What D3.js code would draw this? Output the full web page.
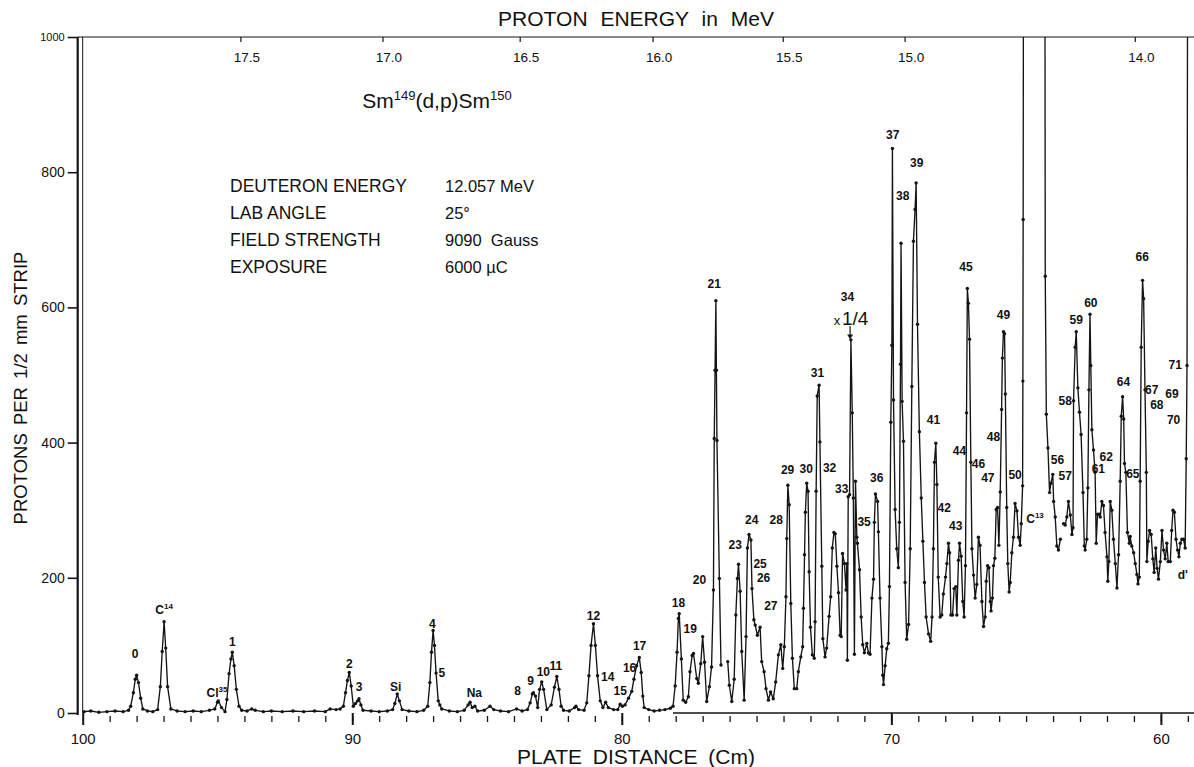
<!DOCTYPE html>
<html>
<head>
<meta charset="utf-8">
<script src="https://cdn.jsdelivr.net/npm/d3@7/dist/d3.min.js"></script>
<style>
body { margin: 0; background: #fff; }
text { font-family: "Liberation Sans", Arial, sans-serif; fill: #111; }
</style>
</head>
<body>
<svg id="chart" width="1194" height="767"></svg>
<script>
// plate distance (cm), protons per 1/2 mm strip ; null = break in the trace
var spectrum = [
 [99.95,2],[99.7,3],[99.4,1],[99.1,2],[98.8,3],[98.5,2],[98.3,4],
 [98.22,10],[98.12,30],[98.05,50],[98.0,56],[97.93,45],[97.85,22],[97.77,6],
 [97.6,3],[97.4,2],
 [97.22,5],[97.12,39],[97.05,91],[96.98,135],[96.92,96],[96.85,39],[96.73,6],
 [96.5,3],[96.2,2],[95.9,3],[95.6,2],[95.3,4],[95.1,6],
 [95.0,16],[94.97,18],[94.85,8],[94.72,2],
 [94.65,20],[94.57,58],[94.5,80],[94.45,90],[94.38,70],[94.3,35],[94.2,10],[94.1,4],
 [93.9,3],[93.73,6],[93.6,4],[93.3,2],[93.0,3],[92.6,2],[92.2,3],[91.8,2],[91.4,3],[91.0,2],[90.82,6],[90.6,5],[90.45,6],
 [90.33,10],[90.25,30],[90.18,48],[90.11,60],[90.04,40],[89.96,10],
 [89.88,14],[89.8,18],[89.75,21],[89.68,12],[89.6,4],
 [89.3,3],[89.0,2],[88.7,3],[88.5,5],
 [88.42,14],[88.33,28],[88.25,18],[88.15,5],
 [87.9,3],[87.6,2],[87.35,4],
 [87.2,10],[87.12,45],[87.06,90],[87.0,122],[86.95,100],[86.89,59],[86.81,18],[86.75,12],[86.68,6],
 [86.4,3],[86.1,2],[85.85,4],
 [85.7,12],[85.63,16],[85.55,8],[85.45,10],[85.35,3],
 [85.1,4],[84.89,10],[84.75,5],[84.5,3],[84.2,2],[83.9,6],[83.7,3],[83.5,5],
 [83.4,15],[83.32,28],[83.28,30],[83.2,25],[83.12,8],
 [83.05,35],[82.97,46],[82.9,35],[82.78,5],
 [82.62,12],[82.5,38],[82.41,54],[82.33,35],[82.25,10],[82.16,4],
 [81.95,3],[81.75,8],[81.7,10],[81.6,5],[81.4,4],
 [81.3,15],[81.22,55],[81.14,100],[81.05,132],[80.98,100],[80.9,55],[80.8,18],
 [80.7,8],[80.6,16],[80.5,8],[80.3,5],[80.15,5],
 [80.06,13],[79.98,10],[79.88,12],
 [79.75,22],[79.63,32],[79.55,50],
 [79.45,70],[79.35,82],[79.28,60],[79.22,25],[79.17,8],
 [79.0,5],[78.8,3],[78.6,4],[78.4,5],[78.2,7],[78.1,10],
 [78.02,40],[77.95,90],[77.9,140],[77.87,147],
 [77.79,80],[77.72,19],[77.63,16],[77.53,24],[77.47,61],[77.39,85],[77.34,88],[77.22,51],[77.16,44],
 [77.07,73],[77.0,113],[76.93,75],[76.85,17],[76.75,39],[76.67,68],[76.6,182],[76.57,406],[76.54,507],
 [76.51,610],[76.49,507],[76.47,403],[76.38,199],[76.32,71],
 [76.2,null],
 [76.07,76],[76.01,41],[75.92,17],[75.83,50],[75.77,145],[75.71,199],[75.67,220],[75.61,180],[75.55,91],
 [75.46,19],[75.39,113],[75.34,244],[75.28,264],[75.21,256],[75.17,184],[75.10,138],[75.05,130],[74.97,115],
 [74.87,127],[74.81,76],[74.72,61],[74.65,36],[74.56,19],[74.48,31],[74.38,21],[74.29,46],[74.19,86],
 [74.1,101],[74.03,66],[73.97,98],[73.91,172],[73.88,258],[73.84,337],[73.79,308],[73.73,162],[73.67,81],
 [73.6,36],[73.51,36],[73.45,61],[73.36,83],[73.29,98],[73.26,155],[73.22,234],[73.19,297],[73.14,340],
 [73.09,328],[73.05,209],[73.0,127],[72.93,86],[72.86,81],[72.83,135],[72.79,328],[72.75,469],[72.68,485],
 [72.65,401],[72.58,217],[72.54,110],[72.46,83],[72.4,96],[72.31,143],[72.25,172],[72.19,244],[72.13,267],
 [72.08,265],[72.02,217],[71.96,178],[71.9,115],[71.86,113],[71.81,236],[71.74,221],[71.68,182],[71.65,221],
 [71.63,78],[71.6,320],[71.55,323],[71.5,552],
 [71.45,444],[71.41,318],[71.37,87],[71.33,343],[71.28,260],[71.26,251],[71.18,212],[71.12,142],[71.06,101],
 [71.0,89],[70.91,103],[70.85,89],[70.79,87],[70.72,170],[70.66,198],[70.63,282],[70.59,324],[70.51,313],
 [70.48,268],[70.42,170],[70.35,98],[70.32,56],[70.29,42],[70.23,70],[70.17,95],[70.11,103],[70.07,187],
 [70.02,430],[69.98,544],[69.96,835],[69.92,463],[69.86,301],[69.8,243],[69.74,215],[69.7,282],[69.66,516],
 [69.64,695],[69.6,461],[69.55,402],[69.49,193],[69.43,109],[69.36,131],[69.3,243],[69.24,483],[69.18,698],
 [69.12,745],[69.08,784],[69.03,575],[68.96,416],[68.89,318],[68.83,254],[68.77,193],[68.71,142],[68.62,117],
 [68.54,106],[68.49,142],[68.44,243],[68.4,371],[68.35,399],[68.31,338],[68.26,201],[68.19,142],[68.13,145],
 [68.07,176],[67.99,201],[67.94,221],[67.88,251],[67.84,237],[67.79,145],[67.73,145],[67.67,184],[67.61,187],
 [67.57,145],[67.51,226],[67.47,251],[67.41,232],[67.35,165],[67.3,142],[67.25,218],[67.21,444],[67.18,628],
 [67.14,606],[67.1,553],[67.05,371],[67.01,243],[66.95,204],[66.89,170],[66.83,190],[66.77,260],[66.71,248],
 [66.64,165],[66.58,128],[66.52,142],[66.48,195],[66.43,218],[66.38,215],[66.33,165],[66.3,151],[66.25,170],
 [66.21,218],[66.16,229],[66.11,301],[66.06,304],[66.01,248],[65.96,327],[65.91,449],[65.88,525],[65.84,564],
 [65.8,561],[65.77,472],[65.72,304],[65.68,221],[65.63,179],[65.59,193],[65.53,237],[65.47,260],[65.41,310],
 [65.34,299],[65.28,260],[65.22,248],
 [65.18,280],[65.13,336],[65.12,491],[65.11,730],[65.09,1400],[64.7,3200],[64.31,1400],
 [64.29,646],[64.25,442],[64.19,392],[64.13,326],[64.08,340],[64.01,353],[63.98,313],[63.92,290],[63.86,247],
 [63.8,241],[63.73,257],
 [63.67,null],
 [63.61,280],[63.55,278],[63.49,290],[63.43,313],[63.36,293],[63.3,264],[63.26,274],[63.24,462],[63.18,541],
 [63.14,564],[63.08,481],[63.02,445],[62.96,412],[62.89,326],[62.84,247],[62.81,241],[62.75,257],[62.71,333],
 [62.67,478],[62.63,590],[62.6,514],[62.56,419],[62.5,389],[62.44,356],[62.4,251],[62.35,294],[62.29,294],
 [62.25,290],[62.19,313],[62.13,307],[62.07,267],[62.0,231],[61.97,195],[61.93,224],[61.88,313],[61.82,300],
 [61.76,257],[61.69,221],[61.63,185],[61.57,234],[61.51,343],[61.47,439],[61.42,468],[61.38,435],[61.35,369],
 [61.3,356],[61.24,267],[61.17,251],[61.14,261],[61.08,247],[61.01,237],[60.95,221],[60.89,205],[60.85,191],
 [60.8,201],[60.77,343],[60.73,541],[60.68,640],[60.64,613],[60.59,478],[60.54,356],[60.52,224],[60.47,254],
 [60.42,270],[60.36,264],[60.3,228],[60.25,208],[60.19,244],[60.14,214],[60.09,198],[60.02,224],[59.96,270],
 [59.9,241],[59.84,228],[59.78,251],[59.73,224],[59.65,224],[59.6,270],[59.55,300],[59.5,297],[59.44,257],
 [59.38,241],[59.33,231],[59.28,251],[59.22,257],[59.16,257],[59.1,244],[59.06,376],[59.03,514],[59.0,1400]
];

// peak identifications: label, plate distance, counts, superscript
var peakLabels = [
 ["0",98.06,88],["C",96.98,152,"14"],["Cl",95.02,30,"35"],["1",94.45,105],["2",90.11,73],["3",89.75,39],
 ["Si",88.39,39],["4",87.03,132],["5",86.68,59],["Na",85.47,30],["8",83.87,33],["9",83.38,48],["10",82.91,60],
 ["11",82.45,69],["12",81.05,143],["14",80.52,53],["15",80.06,32],["16",79.71,66],["17",79.34,99],
 ["18",77.9,163],["19",77.46,125],["20",77.12,197],["21",76.57,634],["23",75.79,248],["24",75.18,285],
 ["25",74.87,220],["26",74.74,199],["27",74.47,158],["28",74.27,286],["29",73.85,359],["30",73.16,361],
 ["31",72.74,503],["32",72.29,362],["33",71.84,332],["34",71.63,616],["35",71.01,283],["36",70.54,348],
 ["37",69.95,855],["38",69.58,765],["39",69.06,814],["41",68.44,433],["42",68.04,303],["43",67.61,277],
 ["44",67.47,388],["45",67.23,660],["46",66.77,368],["47",66.42,348],["48",66.21,409],["49",65.84,589],
 ["50",65.41,352],["C",64.67,287,"13"],["56",63.84,375],["57",63.55,351],["58",63.55,461],["59",63.14,582],
 ["60",62.6,607],["61",62.32,361],["62",62.03,379],["64",61.39,490],["65",61.04,353],["66",60.69,674],
 ["67",60.34,478],["68",60.15,455],["69",59.59,472],["70",59.53,434],["71",59.47,515],["d'",59.0,204]
];

var plateTicks = [100, 90, 80, 70, 60];
var countTicks = [0, 200, 400, 600, 800, 1000];
var energyLabels = ["17.5", "17.0", "16.5", "16.0", "15.5", "15.0", "14.0"];
var energyAtPlate = [94.13, 88.86, 83.77, 78.84, 74.01, 69.49, 60.95];

var infoNames = ["DEUTERON ENERGY", "LAB ANGLE", "FIELD STRENGTH", "EXPOSURE"];
var infoValues = ["12.057 MeV", "25°", "9090  Gauss", "6000 \u00b5C"];

var svg = d3.select("#chart");
var ink = "#141414";

var x = d3.scaleLinear().domain([100, 58.92]).range([82.7, 1190]);
var y = d3.scaleLinear().domain([0, 1000]).range([713, 37]);

// frame: double left edge and top line
svg.append("line").attr("x1", x(100) - 5).attr("x2", x(100) - 5).attr("y1", y(1000)).attr("y2", y(0) + 2)
    .attr("stroke", ink).attr("stroke-width", 2.2);
svg.append("line").attr("x1", x(100)).attr("x2", x(100)).attr("y1", y(1000)).attr("y2", y(0))
    .attr("stroke", ink).attr("stroke-width", 1);
svg.append("line").attr("x1", x(100) - 5).attr("x2", 1194).attr("y1", y(1000)).attr("y2", y(1000))
    .attr("stroke", ink).attr("stroke-width", 1.2);
svg.append("line").attr("x1", x(78.1)).attr("x2", 1194).attr("y1", y(0)).attr("y2", y(0))
    .attr("stroke", ink).attr("stroke-width", 1.5);

// y axis
var yAxis = d3.axisLeft(y).tickValues(countTicks).tickSize(10).tickPadding(3).tickFormat(d3.format("d"));
var gy = svg.append("g").attr("transform", "translate(" + (x(100) - 5) + ",0)").call(yAxis);
gy.select(".domain").remove();
gy.selectAll("line").attr("stroke", ink).attr("stroke-width", 1.6);
gy.selectAll("text").style("font-size", function(d) { return d == 1000 ? "11px" : "14px"; })
    .attr("fill", ink);

// bottom axis: major and minor ticks
var xAxis = d3.axisBottom(x).tickValues(plateTicks).tickSize(12).tickPadding(8).tickFormat(d3.format("d"));
var gx = svg.append("g").attr("transform", "translate(0," + y(0) + ")").call(xAxis);
gx.select(".domain").remove();
gx.selectAll("line").attr("stroke", ink).attr("stroke-width", 2);
gx.selectAll("text").style("font-size", "15px").attr("fill", ink);

var minorAxis = d3.axisBottom(x).tickValues(d3.range(99, 58, -1)).tickSize(6).tickFormat("");
var gm = svg.append("g").attr("transform", "translate(0," + (y(0) + 3) + ")").call(minorAxis);
gm.select(".domain").remove();
gm.selectAll("line").attr("stroke", ink).attr("stroke-width", 1.3);

// top axis: proton energy
var gt = svg.append("g");
gt.selectAll("line").data(energyAtPlate).enter().append("line")
    .attr("x1", function(d) { return x(d); }).attr("x2", function(d) { return x(d); })
    .attr("y1", y(1000)).attr("y2", y(1000) + 5)
    .attr("stroke", ink).attr("stroke-width", 1.2);
gt.selectAll("text").data(energyLabels).enter().append("text")
    .attr("x", function(d, i) { return x(energyAtPlate[i]) + 6; })
    .attr("y", 62)
    .attr("text-anchor", "middle")
    .style("font-size", "13.5px")
    .text(function(d) { return d; });

// axis titles
svg.append("text").attr("x", 636).attr("y", 26).attr("text-anchor", "middle")
    .style("font-size", "21px").style("word-spacing", "7px").text("PROTON ENERGY in MeV");
svg.append("text").attr("x", 636).attr("y", 764).attr("text-anchor", "middle")
    .style("font-size", "21px").style("word-spacing", "5px").text("PLATE DISTANCE (Cm)");
svg.append("text").attr("transform", "translate(27,388) rotate(-90)").attr("text-anchor", "middle")
    .style("font-size", "18.5px").style("word-spacing", "3px").text("PROTONS PER 1/2 mm STRIP");

// reaction and run conditions
var reaction = svg.append("text").attr("x", 437).attr("y", 108).attr("text-anchor", "middle")
    .style("font-size", "21px");
reaction.append("tspan").text("Sm");
reaction.append("tspan").attr("dy", -8).style("font-size", "13px").text("149");
reaction.append("tspan").attr("dy", 8).text("(d,p)Sm");
reaction.append("tspan").attr("dy", -8).style("font-size", "13px").text("150");

svg.selectAll(".infoName").data(infoNames).enter().append("text")
    .attr("class", "infoName")
    .attr("x", 230).attr("y", function(d, i) { return 192 + i * 27; })
    .style("font-size", "17.5px").text(function(d) { return d; });
svg.selectAll(".infoValue").data(infoValues).enter().append("text")
    .attr("class", "infoValue")
    .attr("x", 445).attr("y", function(d, i) { return 192 + i * 27; })
    .style("font-size", "16.5px").style("white-space", "pre").text(function(d) { return d; });

// spectrum trace
svg.append("clipPath").attr("id", "plotClip").append("rect")
    .attr("x", x(100)).attr("y", y(1000)).attr("width", 1194 - x(100)).attr("height", y(0) - y(1000) + 4);

var plot = svg.append("g").attr("clip-path", "url(#plotClip)");
var line = d3.line()
    .defined(function(d) { return d[1] != null; })
    .x(function(d) { return x(d[0]); })
    .y(function(d) { return y(d[1]); });

plot.append("path").datum(spectrum)
    .attr("fill", "none")
    .attr("stroke", ink)
    .attr("stroke-width", 1.35)
    .attr("stroke-linejoin", "round")
    .attr("d", line);

plot.selectAll("circle").data(spectrum.filter(function(d) { return d[1] != null && d[1] <= 1000; }))
    .enter().append("circle")
    .attr("cx", function(d) { return x(d[0]); })
    .attr("cy", function(d) { return y(d[1]); })
    .attr("r", 1.7)
    .attr("fill", ink);

// peak labels
var labels = svg.selectAll(".peak").data(peakLabels).enter().append("text")
    .attr("class", "peak")
    .attr("x", function(d) { return x(d[1]); })
    .attr("y", function(d) { return y(d[2]) + 4; })
    .attr("text-anchor", function(d) { return d[0] == "d'" ? "end" : "middle"; })
    .style("font-size", "12px")
    .style("font-weight", "bold");
labels.append("tspan").text(function(d) { return d[0]; });
labels.filter(function(d) { return d[3]; }).append("tspan")
    .attr("dy", -5).style("font-size", "8px").text(function(d) { return d[3]; });

// x 1/4 scale change marker at peak 34
svg.append("text").attr("x", x(72.02)).attr("y", y(581) + 5).attr("text-anchor", "middle")
    .style("font-size", "13px").text("x");
svg.append("text").attr("x", x(71.34)).attr("y", y(584) + 7).attr("text-anchor", "middle")
    .style("font-size", "19px").text("1/4");
svg.append("line").attr("x1", x(71.53)).attr("x2", x(71.53)).attr("y1", y(572)).attr("y2", y(556))
    .attr("stroke", ink).attr("stroke-width", 1.2);
svg.append("path")
    .attr("d", "M" + (x(71.53) - 3) + "," + (y(560)) + "L" + x(71.53) + "," + y(553) + "L" + (x(71.53) + 3) + "," + y(560) + "Z")
    .attr("fill", ink);
</script>
</body>
</html>
